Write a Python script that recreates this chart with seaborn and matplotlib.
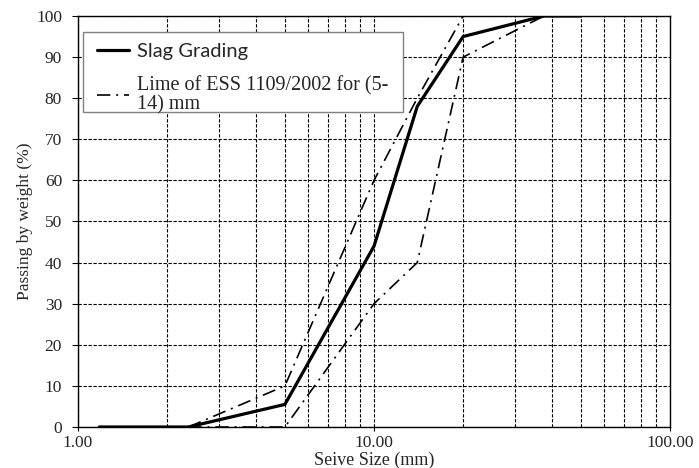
import numpy as np
import pandas as pd
import matplotlib
matplotlib.use("Agg")
import matplotlib.pyplot as plt
from matplotlib.lines import Line2D
from matplotlib.patches import Rectangle
from matplotlib.ticker import FixedLocator, NullFormatter
import seaborn as sns

# Sieve sizes (mm) and percent passing
slag_size = [1.18, 2.36, 5, 10, 14, 20, 37.5, 50]
slag_pass = [0, 0, 5.5, 44, 78, 95, 100, 100]

upper_size = [2.36, 5, 10, 14, 20, 37.5]
upper_pass = [0, 10, 60, 80, 100, 100]

lower_size = [2.36, 5, 10, 14, 20, 37.5]
lower_pass = [0, 0, 30, 40, 90, 100]

x_tick_values = [1, 10, 100]
x_tick_labels = ["1.00", "10.00", "100.00"]
y_tick_values = list(range(0, 101, 10))

slag_label = "Slag Grading"
limit_label = "Lime of ESS 1109/2002 for (5-\n14) mm"

df = pd.concat([
    pd.DataFrame({"size": slag_size, "passing": slag_pass, "curve": "slag"}),
    pd.DataFrame({"size": upper_size, "passing": upper_pass, "curve": "upper"}),
    pd.DataFrame({"size": lower_size, "passing": lower_pass, "curve": "lower"}),
])

sns.set_style("white")
plt.rcParams["font.family"] = ["Liberation Serif", "DejaVu Serif"]

fig = plt.figure(figsize=(6.99, 4.68), dpi=100)
ax = fig.add_axes([78 / 699, 41 / 468, 592 / 699, 411 / 468])

dashdot = (0, (8, 3.5, 1.2, 3.5))

sns.lineplot(data=df[df.curve == "slag"], x="size", y="passing", ax=ax,
             color="black", linewidth=2.3, sort=False, legend=False)
sns.lineplot(data=df[df.curve == "upper"], x="size", y="passing", ax=ax,
             color="black", linewidth=1.2, linestyle=dashdot, sort=False, legend=False)
sns.lineplot(data=df[df.curve == "lower"], x="size", y="passing", ax=ax,
             color="black", linewidth=1.2, linestyle=dashdot, sort=False, legend=False)

ax.set_xscale("log")
ax.set_xlim(1, 100)
ax.set_ylim(0, 100)

# grid lines at every sieve decade subdivision
minor = [m * d for d in (1, 10) for m in range(2, 10)]
ax.xaxis.set_major_locator(FixedLocator(x_tick_values))
ax.set_xticklabels(x_tick_labels)
ax.xaxis.set_minor_locator(FixedLocator(minor))
ax.xaxis.set_minor_formatter(NullFormatter())
ax.set_yticks(y_tick_values)

grid_kw = dict(color="black", linewidth=0.8, linestyle=(0, (3, 1.5)))
ax.grid(True, which="both", axis="x", **grid_kw)
ax.grid(True, which="major", axis="y", **grid_kw)

ax.tick_params(axis="x", which="major", length=2.9, width=0.8, direction="out",
               bottom=True, labelsize=12.5, pad=3, color="black")
ax.tick_params(axis="x", which="minor", length=0)
ax.tick_params(axis="y", which="major", length=4.5, width=0.8, direction="out",
               left=True, labelsize=12.5, pad=7, color="black")

for s in ax.spines.values():
    s.set_color("black")
    s.set_linewidth(1.0)

ax.set_xlabel("Seive Size (mm)", fontsize=13, labelpad=0)
ax.set_ylabel("Passing by weight (%)", fontsize=12.5)
ax.yaxis.set_label_coords(-0.076, 0.5)

# legend box
ax.add_patch(Rectangle((5 / 592, (427 - 112) / 411), 320 / 592, 80 / 411,
                       transform=ax.transAxes, facecolor="white",
                       edgecolor="#808080", linewidth=1.0, zorder=4))

handles = [
    Line2D([], [], color="black", linewidth=2.3),
    Line2D([], [], color="black", linewidth=1.2, linestyle=dashdot),
]
leg = ax.legend(handles, [slag_label, limit_label], loc="upper left",
                bbox_to_anchor=(19 / 592, (427 - 43) / 411), frameon=False,
                handlelength=1.6, handletextpad=0.4, labelspacing=0.8,
                borderpad=0, borderaxespad=0,
                prop={"family": "Liberation Serif", "size": 14.5})
leg.set_zorder(5)
texts = leg.get_texts()
texts[0].set_fontfamily(["Lato", "DejaVu Sans"])
texts[0].set_fontsize(14.5)
texts[1].set_linespacing(1.0)

fig.savefig("out.png", dpi=100)
